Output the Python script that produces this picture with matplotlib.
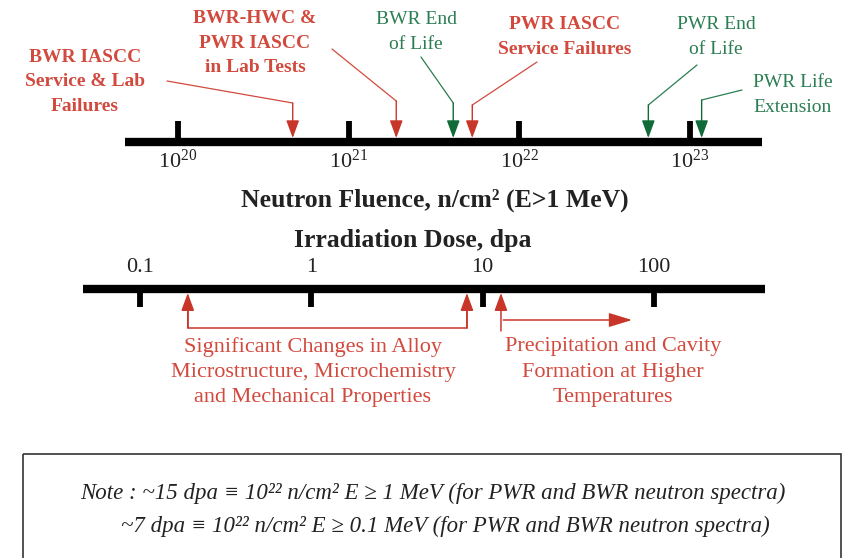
import matplotlib
matplotlib.use('Agg')
import matplotlib.pyplot as plt
from matplotlib.patches import Rectangle

plt.rcParams['font.family'] = ['Liberation Serif', 'DejaVu Serif']
plt.rcParams['mathtext.fontset'] = 'custom'
plt.rcParams['mathtext.rm'] = 'Liberation Serif'

# Fluence scale (n/cm2, E>1 MeV)
fluence_ticks = [1e20, 1e21, 1e22, 1e23]
fluence_tick_labels = [r'$\mathrm{10^{20}}$', r'$\mathrm{10^{21}}$',
                       r'$\mathrm{10^{22}}$', r'$\mathrm{10^{23}}$']
fluence_span = [4.9e19, 2.64e23]

event_labels = ['BWR IASCC\nService & Lab\nFailures',
                'BWR-HWC &\nPWR IASCC\nin Lab Tests',
                'BWR End\nof Life',
                'PWR IASCC\nService Failures',
                'PWR End\nof Life',
                'PWR Life\nExtension']
event_fluence = [4.7e20, 1.9e21, 4.1e21, 5.3e21, 5.7e22, 1.17e23]
event_kind = ['iascc', 'iascc', 'life', 'iascc', 'life', 'life']

# Dose scale (dpa)
dpa_ticks = [0.1, 1, 10, 100]
dpa_tick_labels = ['0.1', '1', '10', '100']
dpa_span = [0.0465, 445]
dpa_marks = [0.19, 8.1, 12.8]
dpa_trend = [13.2, 74.5]

note_lines = ['Note : ~15 dpa \u2261 10\u00b2\u00b2 n/cm\u00b2 E \u2265 1 MeV (for PWR and BWR neutron spectra)',
              '~7 dpa \u2261 10\u00b2\u00b2 n/cm\u00b2 E \u2265 0.1 MeV (for PWR and BWR neutron spectra)']

red_txt = '#d24a3e'
red_arr = '#c8362a'
green_txt = '#2b7d52'
green_arr = '#106b38'

W, H = 846, 558
fig = plt.figure(figsize=(W/100, H/100), dpi=100)
fig.patch.set_facecolor('white')

# canvas in pixel units for text placement
canvas = fig.add_axes([0, 0, 1, 1])
canvas.set_xlim(0, W)
canvas.set_ylim(H, 0)
canvas.axis('off')

# log axes sharing the same vertical pixel units
ax_top = fig.add_axes([0, 0, 1, 1], sharey=canvas)
ax_top.set_xscale('log')
ax_top.set_xlim(10**(20 - 178/170.67), 10**(20 + 668/170.67))
ax_top.axis('off')

ax_bot = fig.add_axes([0, 0, 1, 1], sharey=canvas)
ax_bot.set_xscale('log')
ax_bot.set_xlim(10**(-1 - 140/171.3), 10**(-1 + 706/171.3))
ax_bot.axis('off')

# ---- fluence axis ----
ax_top.hlines(142, fluence_span[0], fluence_span[1], color='black', lw=6, capstyle='butt')
ax_top.vlines(fluence_ticks, 121, 142, color='black', lw=4.2)
for t, lab in zip(fluence_ticks, fluence_tick_labels):
    ax_top.text(t, 161, lab, ha='center', va='center', fontsize=16, color='#222222')

label_pos = [(85, 82), (255, 43), (416, 32), (565, 37), (716, 37), (793, 95)]
leader_start = [(167, 81), (332, 49), (421, 57), (537, 62), (697, 65), (742, 90)]
bend_y = [103, 101, 103, 105, 105, 100]
for lab, val, kind, (tx, ty), (sx, sy), by in zip(event_labels, event_fluence, event_kind,
                                                  label_pos, leader_start, bend_y):
    tc = red_txt if kind == 'iascc' else green_txt
    ac = red_arr if kind == 'iascc' else green_arr
    canvas.text(tx, ty, lab, ha='center', va='center', fontsize=14, color=tc,
                fontweight='bold' if kind == 'iascc' else 'normal', linespacing=1.55)
    ax_top.annotate('', xy=(val, by), xytext=(sx, sy), textcoords=canvas.transData,
                    arrowprops=dict(arrowstyle='-', lw=0.9, color=tc, shrinkA=0, shrinkB=0))
    ax_top.annotate('', xy=(val, 138), xytext=(val, by),
                    arrowprops=dict(arrowstyle='-|>,head_length=0.6,head_width=0.22',
                                    mutation_scale=18, lw=1.0, color=ac, shrinkA=0, shrinkB=0))

canvas.text(435, 200, 'Neutron Fluence, n/cm\u00b2 (E>1 MeV)', ha='center', va='center',
            fontsize=18.5, fontweight='bold', color='#222222')
canvas.text(413, 240, 'Irradiation Dose, dpa', ha='center', va='center',
            fontsize=18.5, fontweight='bold', color='#222222')

# ---- dose axis ----
ax_bot.hlines(289, dpa_span[0], dpa_span[1], color='black', lw=6, capstyle='butt')
ax_bot.vlines(dpa_ticks, 289, 307, color='black', lw=4.2)
for t, lab in zip(dpa_ticks, dpa_tick_labels):
    ax_bot.text(t, 268, lab, ha='center', va='center', fontsize=16, color='#222222')

# bracket for microstructure changes
ax_bot.plot([dpa_marks[0], dpa_marks[0], dpa_marks[1], dpa_marks[1]], [308, 328, 328, 308],
            color=red_arr, lw=1.1)
for v, y0 in zip(dpa_marks, [328, 328, 331]):
    ax_bot.annotate('', xy=(v, 293), xytext=(v, y0),
                    arrowprops=dict(arrowstyle='-|>,head_length=0.6,head_width=0.22',
                                    mutation_scale=18, lw=1.1, color=red_arr, shrinkA=0, shrinkB=0))
ax_bot.annotate('', xy=(dpa_trend[1], 320), xytext=(dpa_trend[0], 320),
                arrowprops=dict(arrowstyle='-|>,head_length=0.75,head_width=0.23',
                                mutation_scale=19, lw=1.1, color=red_arr, shrinkA=0, shrinkB=0))

canvas.text(313, 372, 'Significant Changes in Alloy\nMicrostructure, Microchemistry\nand Mechanical Properties',
            ha='center', va='center', fontsize=16, color=red_txt, linespacing=1.45)
canvas.text(613, 372, 'Precipitation and Cavity\nFormation at Higher\nTemperatures',
            ha='center', va='center', fontsize=16, color=red_txt, linespacing=1.45)

# ---- note box ----
canvas.add_patch(Rectangle((23, 454), 818, 200, fill=False, edgecolor='#333333', lw=1.2))
canvas.text(433, 493, note_lines[0], ha='center', va='center', fontsize=16.5,
            style='italic', color='#222222')
canvas.text(445, 526, note_lines[1], ha='center', va='center', fontsize=16.5,
            style='italic', color='#222222')

fig.savefig('out.png', dpi=100, facecolor='white')
